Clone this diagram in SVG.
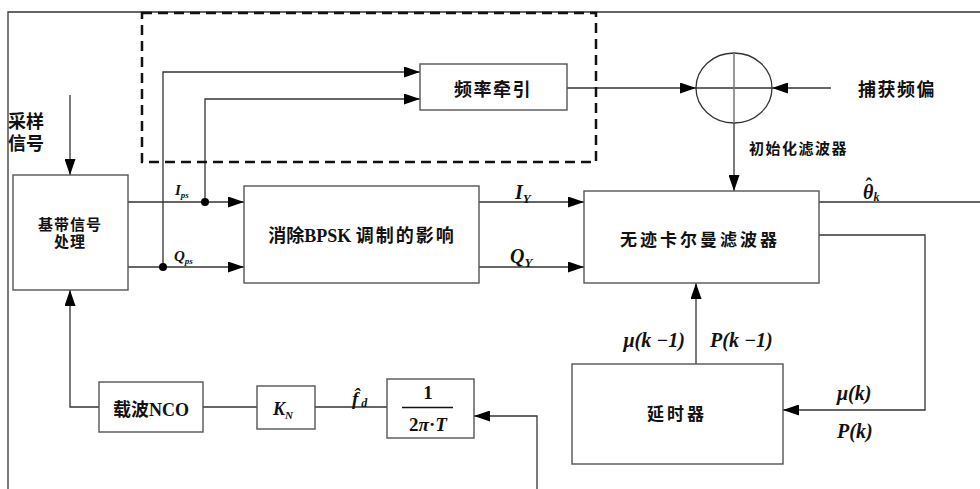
<svg xmlns="http://www.w3.org/2000/svg" width="980" height="489" viewBox="0 0 980 489">
<defs>
<marker id="ar" markerWidth="16" markerHeight="11" refX="16" refY="5.5" orient="auto" markerUnits="userSpaceOnUse"><path d="M0,0 L16,5.5 L0,11 z" fill="#000"/></marker>
<style>
.ln{fill:none;stroke:#333;stroke-width:1.3}
.bx{fill:#fff;stroke:#555;stroke-width:1.4}
.cn{font-family:"Liberation Sans","Noto Sans CJK SC",sans-serif;font-weight:bold;fill:#111}
.mt{font-family:"Liberation Serif","Noto Sans CJK SC",serif;font-weight:bold;font-style:italic;fill:#111}
.rm{font-family:"Liberation Serif","Noto Sans CJK SC",serif;font-weight:bold;fill:#111}
</style>
</defs>
<rect width="980" height="489" fill="#fff"/>
<g id="frame">
<path class="ln" d="M8,489 V12 H980" stroke="#666"/>
</g>
<g id="connectors">
<path class="ln" d="M70,95 V175" marker-end="url(#ar)"/>
<path class="ln" d="M128,202 H244" marker-end="url(#ar)"/>
<path class="ln" d="M128,267 H244" marker-end="url(#ar)"/>
<path class="ln" d="M163,267 V72 H420" marker-end="url(#ar)"/>
<path class="ln" d="M205,202 V99 H420" marker-end="url(#ar)"/>
<circle cx="205" cy="202" r="4" fill="#000"/>
<circle cx="163" cy="267" r="4" fill="#000"/>
<path class="ln" d="M567,88 H696" marker-end="url(#ar)"/>
<path class="ln" d="M831,88 H772" marker-end="url(#ar)"/>
<path class="ln" d="M734,123 V191" stroke="#666" marker-end="url(#ar)"/>
<path class="ln" d="M479,202 H584" marker-end="url(#ar)"/>
<path class="ln" d="M479,267 H584" marker-end="url(#ar)"/>
<path class="ln" d="M819,202 H980"/>
<path class="ln" d="M819,235 H925 V410 H783" marker-end="url(#ar)"/>
<path class="ln" d="M696,364 V283" marker-end="url(#ar)"/>
<path class="ln" d="M99,407 H70 V290" marker-end="url(#ar)"/>
<path class="ln" d="M203,407 H257"/>
<path class="ln" d="M315,407 H387"/>
<path class="ln" d="M537,489 V416 H474" marker-end="url(#ar)"/>
</g>
<g id="dashed-box">
<rect x="142" y="13" width="454" height="149" fill="none" stroke="#111" stroke-width="2.5" stroke-dasharray="10,6"/>
</g>
<g id="sample-label">
<text class="cn" x="8" y="128" font-size="18">采样</text>
<text class="cn" x="8" y="150" font-size="18">信号</text>
</g>
<g id="baseband">
<rect class="bx" x="13" y="175" width="115" height="115"/>
<text class="cn" x="70" y="230" font-size="15" text-anchor="middle" letter-spacing="1">基带信号</text>
<text class="cn" x="70" y="247" font-size="15" text-anchor="middle" letter-spacing="1">处理</text>
</g>
<g id="freq-pull">
<rect class="bx" x="420" y="64" width="147" height="46"/>
<text class="cn" x="493" y="96" font-size="18" text-anchor="middle" letter-spacing="1.5">频率牵引</text>
</g>
<g id="sum">
<ellipse cx="734" cy="88" rx="38" ry="35" fill="none" stroke="#333" stroke-width="1.3"/>
<path class="ln" d="M696,88 H772"/>
<path d="M734,53 V123" stroke="#777" stroke-width="1.5"/>
</g>
<g id="capture-label">
<text class="cn" x="858" y="96" font-size="18" letter-spacing="1.5">捕获频偏</text>
</g>
<g id="init-label">
<text class="cn" x="749" y="154" font-size="15" letter-spacing="1.5">初始化滤波器</text>
</g>
<g id="bpsk">
<rect class="bx" x="244" y="186" width="235" height="97"/>
<text x="362" y="242" font-size="18" text-anchor="middle" fill="#111" font-weight="bold"><tspan class="cn">消除</tspan><tspan class="rm">BPSK </tspan><tspan class="cn" letter-spacing="2">调制的影响</tspan></text>
</g>
<g id="ukf">
<rect class="bx" x="584" y="191" width="235" height="92"/>
<text class="cn" x="700" y="246" font-size="17" text-anchor="middle" letter-spacing="3">无迹卡尔曼滤波器</text>
</g>
<g id="delay">
<rect class="bx" x="572" y="364" width="211" height="100"/>
<text class="cn" x="677" y="420" font-size="17" text-anchor="middle" letter-spacing="3">延时器</text>
</g>
<g id="nco">
<rect class="bx" x="99" y="382" width="104" height="50"/>
<text x="151" y="416" font-size="18" text-anchor="middle" fill="#111"><tspan class="cn">载波</tspan><tspan class="rm">NCO</tspan></text>
</g>
<g id="kn">
<rect class="bx" x="257" y="386" width="58" height="43"/>
<text class="mt" x="273" y="415" font-size="18">K<tspan font-size="11" dy="4">N</tspan></text>
</g>
<g id="gain">
<rect class="bx" x="387" y="379" width="87" height="59"/>
<text class="rm" x="428" y="399" font-size="19" text-anchor="middle">1</text>
<path d="M402,407.5 H453" stroke="#111" stroke-width="1.3"/>
<text class="rm" x="428" y="431" font-size="19" text-anchor="middle">2<tspan font-style="italic">π</tspan>·<tspan font-style="italic">T</tspan></text>
</g>
<g id="labels">
<text class="mt" x="175" y="195" font-size="15">I<tspan font-size="9" dy="3">ps</tspan></text>
<text class="mt" x="174" y="261" font-size="15">Q<tspan font-size="9" dy="3">ps</tspan></text>
<text class="mt" x="515" y="199" font-size="20">I<tspan font-size="13" dy="4">Y</tspan></text>
<text class="mt" x="510" y="263" font-size="20">Q<tspan font-size="13" dy="4">Y</tspan></text>
<text class="mt" x="863" y="199" font-size="20">θ<tspan class="rm" font-style="normal" dx="-8" dy="-6">ˆ</tspan><tspan font-size="12" dx="1.5" dy="8">k</tspan></text>
<text class="mt" x="352" y="405" font-size="19">f̂<tspan font-size="12" dx="3" dy="2">d</tspan></text>
<text class="mt" x="685" y="347" font-size="20" text-anchor="end">μ(k −1)</text>
<text class="mt" x="710" y="347" font-size="20">P(k −1)</text>
<text class="mt" x="837" y="400" font-size="20">μ(k)</text>
<text class="mt" x="837" y="438" font-size="20">P(k)</text>
</g>
</svg>
